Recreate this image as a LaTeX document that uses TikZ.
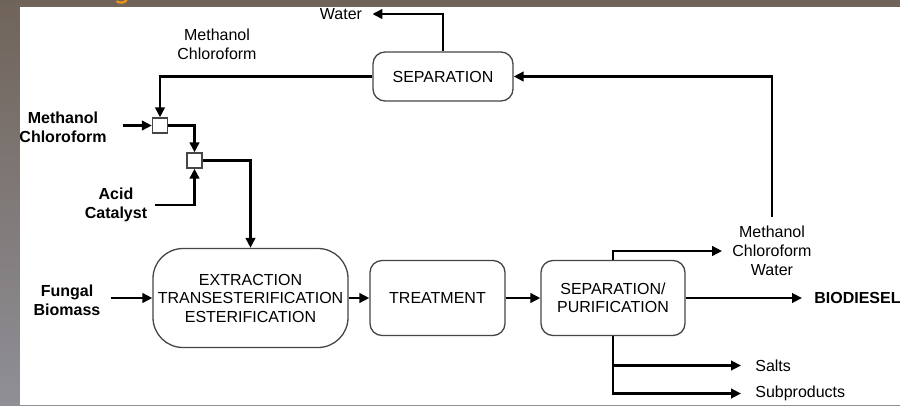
\documentclass[tikz,border=0pt]{standalone}
\usepackage{fontspec}
\setmainfont{Liberation Sans}
\usetikzlibrary{arrows.meta}
\definecolor{frametop}{RGB}{112,100,90}
\definecolor{framebot}{RGB}{143,143,150}
\definecolor{boxline}{RGB}{70,70,70}
\definecolor{titleorange}{RGB}{240,150,20}
\begin{document}
\begin{tikzpicture}[x=1pt,y=-1pt,
  flow/.style={line width=2.8pt, -{Triangle[length=10pt,width=9.5pt]}},
  unit/.style={draw=boxline, line width=1.3pt, fill=white, rounded corners=12pt,
    align=center, inner sep=0pt, font=\fontsize{16}{18.5}\selectfont},
  mixer/.style={draw=boxline, line width=1.3pt, fill=white, minimum size=15pt, inner sep=0pt},
  lbl/.style={align=center, font=\fontsize{16}{19}\selectfont},
  blbl/.style={align=center, font=\fontsize{16}{19}\selectfont\bfseries}
]
\useasboundingbox (0,0) rectangle (900,405);
% photographic frame behind the sheet
\shade[top color=frametop, bottom color=framebot] (0,0) rectangle (900,405);
\fill[white] (20,7) rectangle (900,405);
\draw[line width=2.2pt, titleorange, line cap=round] (117,1.5) .. controls (121,3.5) and (125,3) .. (127,-1);

% process units
\node[unit, minimum width=140pt, minimum height=49pt] (sep) at (443,76.5) {SEPARATION};
\node[unit, minimum width=195pt, minimum height=99pt, rounded corners=30pt] (ext) at (250.5,298)
  {EXTRACTION\\TRANSESTERIFICATION\\ESTERIFICATION};
\node[unit, minimum width=135pt, minimum height=75pt] (treat) at (437.5,298) {TREATMENT};
\node[unit, minimum width=144pt, minimum height=75pt] (pur) at (613,298) {SEPARATION/\\PURIFICATION};

% mixing points
\node[mixer] (mixa) at (160,125.5) {};
\node[mixer] (mixb) at (194.5,160.5) {};

% stream labels
\node[lbl, outer xsep=7pt] (water) at (341,14) {Water};
\node[lbl] (recy) at (217,44) {Methanol\\Chloroform};
\node[blbl, outer xsep=13pt] (solv) at (63,127) {Methanol\\Chloroform};
\node[blbl, outer xsep=5pt] (acid) at (116,205) {Acid\\Catalyst};
\node[blbl, outer xsep=7pt] (fung) at (67,300) {Fungal\\Biomass};
\node[lbl, outer xsep=7pt] (mcw) at (772,251) {Methanol\\Chloroform\\Water};
\node[blbl, outer xsep=9pt, anchor=west] (bio) at (802,298) {BIODIESEL};
\node[lbl, outer xsep=11pt, anchor=west] (salts) at (741,365.5) {Salts};
\node[lbl, outer xsep=11pt, anchor=west] (subp) at (741,393.5) {Subproducts};

% feed lines
\draw[flow] (sep.north) |- (water.east);
\draw[flow] (sep.west) -| (mixa.north);
\draw[flow] (mixa.west -| solv.east) -- (mixa.west);
\draw[flow] (mixa.east) -| (mixb.north);
\draw[flow] (acid.east) -| (mixb.south);
\draw[flow] (mixb.east) -| (ext.north);
\draw[flow] (ext.west -| fung.east) -- (ext.west);

% main train
\draw[flow] (ext.east) -- (treat.west);
\draw[flow] (treat.east) -- (pur.west);
\draw[flow] (pur.east) -- (bio.west);

% product and recycle streams
\draw[flow] (pur.north) |- (mcw.west);
\draw[flow, shorten <=6pt] (mcw.north) |- (sep.east);
\draw[flow] (pur.south) |- (salts.west);
\draw[flow] (pur.south) |- (subp.west);
\end{tikzpicture}
\end{document}
